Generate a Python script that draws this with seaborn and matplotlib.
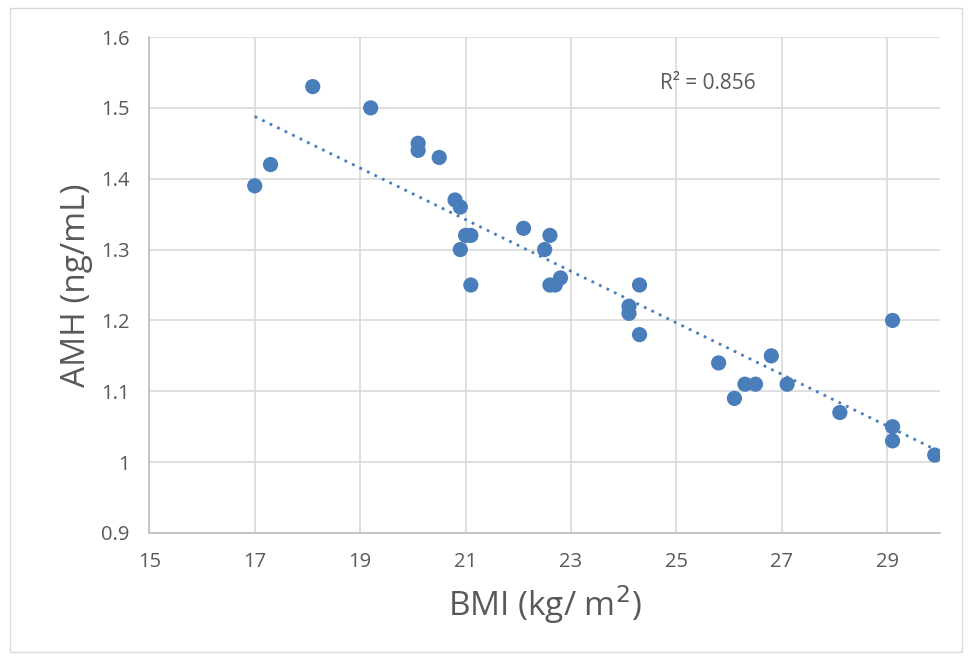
import numpy as np
import pandas as pd
import matplotlib
matplotlib.use("Agg")
import matplotlib.pyplot as plt
import seaborn as sns
from matplotlib.patches import Rectangle

bmi = [17.0, 17.3, 18.1, 19.2, 20.1, 20.1, 20.5, 20.8, 20.9, 20.9, 21.0, 21.1, 21.1,
       22.1, 22.5, 22.6, 22.6, 22.7, 22.8, 24.1, 24.1, 24.3, 24.3, 25.8, 26.1, 26.3,
       26.5, 26.8, 27.1, 28.1, 29.1, 29.1, 29.1, 29.9]
amh = [1.39, 1.42, 1.53, 1.50, 1.45, 1.44, 1.43, 1.37, 1.36, 1.30, 1.32, 1.32, 1.25,
       1.33, 1.30, 1.32, 1.25, 1.25, 1.26, 1.22, 1.21, 1.25, 1.18, 1.14, 1.09, 1.11,
       1.11, 1.15, 1.11, 1.07, 1.20, 1.05, 1.03, 1.01]
x_ticks = [15, 17, 19, 21, 23, 25, 27, 29]
y_ticks = [0.9, 1.0, 1.1, 1.2, 1.3, 1.4, 1.5, 1.6]
y_tick_labels = ["0.9", "1", "1.1", "1.2", "1.3", "1.4", "1.5", "1.6"]
r2_text = "R² = 0.856"

df = pd.DataFrame({"BMI": bmi, "AMH": amh})

sns.set_style("white")
plt.rcParams["font.family"] = ["Open Sans", "DejaVu Sans"]
txt = "#595959"
blue = "#4A7EBB"

fig = plt.figure(figsize=(9.71, 6.60), dpi=100)
ax = fig.add_axes([149.3 / 971, 1 - 533 / 660, (940 - 149.3) / 971, (533 - 37) / 660])

sns.regplot(data=df, x="BMI", y="AMH", ax=ax, ci=None, truncate=True,
            scatter_kws=dict(s=120, color=blue, edgecolor="none", alpha=1, zorder=3),
            line_kws=dict(color=blue, linestyle=(0, (1, 2)), linewidth=2, zorder=2))

ax.set_xlim(15, 30)
ax.set_ylim(0.9, 1.6)
ax.set_xticks(x_ticks)
ax.set_yticks(y_ticks)
ax.set_yticklabels(y_tick_labels)
ax.grid(True, color="#d9d9d9", linewidth=1.2)
ax.set_axisbelow(True)
for side in ["top", "right"]:
    ax.spines[side].set_visible(False)
for side in ["left", "bottom"]:
    ax.spines[side].set_color("#bfbfbf")
    ax.spines[side].set_linewidth(1.2)
ax.tick_params(axis="both", length=0, labelsize=14.5, colors=txt, pad=14)

ax.set_xlabel("BMI (kg/ m$^2$)", fontsize=24, color=txt, labelpad=8)
ax.set_ylabel("AMH (ng/mL)", fontsize=24, color=txt, labelpad=6)

ax.text(25.59, 1.535, r2_text, fontsize=15, color=txt, ha="center", va="center")

fig.patches.append(Rectangle((10 / 971, 1 - 652 / 660), 952 / 971, 644 / 660,
                             transform=fig.transFigure, fill=False,
                             edgecolor="#d9d9d9", linewidth=1))

fig.savefig("out.png", dpi=100)
